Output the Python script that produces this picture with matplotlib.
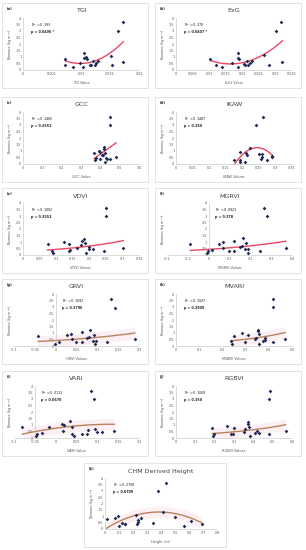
import numpy as np
import matplotlib
matplotlib.use('Agg')
import matplotlib.pyplot as plt
from matplotlib.patches import Rectangle

# --- data (x = index value, y = biomass kg m-2) ---
tgi_x = [0.0073, 0.0073, 0.0086, 0.0099, 0.0104, 0.0105, 0.0105, 0.0108, 0.0111, 0.0116,
         0.0117, 0.0120, 0.0124, 0.0125, 0.0130, 0.0152, 0.0154, 0.0164, 0.0173, 0.0173]
tgi_y = [0.82, 0.41, 0.20, 0.54, 0.20, 1.31, 0.92, 0.97, 0.85, 0.41,
         0.38, 0.72, 0.41, 0.56, 0.69, 1.10, 0.36, 3.00, 3.67, 0.59]

exg_x = [0.0104, 0.0120, 0.0140, 0.0168, 0.0187, 0.0188, 0.0189, 0.0188, 0.0204, 0.0209,
         0.0215, 0.0217, 0.0223, 0.0230, 0.0266, 0.0281, 0.0301, 0.0317, 0.0321]
exg_y = [0.82, 0.41, 0.20, 0.56, 1.33, 0.95, 0.85, 0.23, 0.44, 0.38,
         0.72, 0.36, 0.51, 0.69, 1.15, 0.36, 3.03, 3.67, 0.59]

gcc_x = [0.368, 0.373, 0.375, 0.392, 0.399, 0.399, 0.407, 0.416, 0.418, 0.418,
         0.423, 0.424, 0.430, 0.433, 0.452, 0.452, 0.452, 0.481]
gcc_y = [0.82, 0.28, 0.44, 1.00, 0.90, 0.36, 0.72, 0.67, 1.28, 1.15,
         0.18, 0.85, 0.49, 0.36, 3.62, 2.97, 0.36, 0.56]

ikaw_x = [0.174, 0.193, 0.194, 0.194, 0.209, 0.212, 0.215, 0.223, 0.241, 0.250,
          0.256, 0.258, 0.258, 0.264, 0.274, 0.289, 0.290]
ikaw_y = [0.33, 0.92, 0.31, 0.18, 0.13, 0.85, 0.69, 1.23, 2.97, 0.79,
          0.41, 0.77, 0.51, 3.62, 0.28, 0.54, 0.64]

vdvi_x = [0.074, 0.089, 0.091, 0.125, 0.138, 0.140, 0.143, 0.164, 0.176, 0.179,
          0.183, 0.187, 0.189, 0.200, 0.200, 0.212, 0.245, 0.249, 0.249, 0.303]
vdvi_y = [0.82, 0.31, 0.15, 1.00, 0.85, 0.31, 0.36, 0.54, 0.77, 1.08,
          1.26, 0.90, 0.15, 0.62, 0.44, 0.49, 0.31, 3.64, 2.97, 0.51]

mgrvi_x = [-0.088, -0.008, -0.003, 0.017, 0.051, 0.068, 0.071, 0.096, 0.121, 0.121,
           0.150, 0.158, 0.165, 0.175, 0.179, 0.190, 0.191, 0.245, 0.264, 0.278, 0.370]
mgrvi_y = [0.82, 0.15, 0.28, 0.38, 0.85, 0.97, 0.56, 0.33, 1.10, 0.33,
           0.64, 0.72, 1.28, 0.44, 0.90, 0.18, 0.44, 0.31, 3.62, 2.97, 0.54]

grvi_x = [-0.042, -0.002, 0.009, 0.026, 0.036, 0.038, 0.049, 0.062, 0.062, 0.074,
          0.080, 0.083, 0.089, 0.091, 0.094, 0.097, 0.124, 0.132, 0.142, 0.190]
grvi_y = [0.77, 0.13, 0.33, 0.82, 0.95, 0.51, 0.28, 1.08, 0.28, 0.64,
          0.69, 1.26, 0.38, 0.85, 0.18, 0.41, 0.28, 3.59, 2.95, 0.51]

mvari_x = [0.238, 0.241, 0.248, 0.285, 0.297, 0.310, 0.341, 0.343, 0.352, 0.353,
           0.357, 0.357, 0.375, 0.382, 0.383, 0.416, 0.418, 0.418, 0.471]
mvari_y = [0.41, 0.15, 0.79, 0.97, 0.31, 0.82, 0.51, 0.64, 1.26, 1.15,
           0.90, 0.15, 0.36, 0.62, 0.46, 0.31, 3.62, 2.97, 0.51]

vari_x = [-0.080, -0.048, -0.046, -0.033, -0.017, 0.016, 0.019, 0.017, 0.035, 0.040, 0.040,
          0.045, 0.064, 0.076, 0.078, 0.084, 0.091, 0.094, 0.099, 0.112, 0.141]
vari_y = [0.82, 0.15, 0.31, 0.38, 0.85, 1.10, 0.97, 0.51, 1.28, 0.87, 0.31,
          0.18, 0.33, 0.33, 0.64, 3.64, 3.00, 0.72, 0.44, 0.46, 0.54]

rgbvi_x = [0.187, 0.193, 0.197, 0.265, 0.287, 0.293, 0.298, 0.350, 0.358, 0.370,
           0.373, 0.380, 0.383, 0.410, 0.420, 0.428, 0.482, 0.482, 0.485, 0.567]
rgbvi_y = [0.77, 0.13, 0.31, 0.92, 0.28, 0.28, 0.79, 0.49, 0.67, 1.20,
           1.08, 0.87, 0.15, 0.36, 0.56, 0.38, 0.28, 2.97, 3.62, 0.51]

chm_x = [0.011, 0.074, 0.092, 0.101, 0.119, 0.140, 0.146, 0.221, 0.232, 0.234,
         0.239, 0.259, 0.340, 0.380, 0.412, 0.439, 0.502, 0.563, 0.617, 0.691]
chm_y = [0.78, 0.85, 1.00, 0.25, 0.50, 0.38, 0.38, 1.13, 0.43, 0.58,
         0.73, 0.88, 0.45, 3.00, 1.30, 3.63, 0.95, 0.25, 0.60, 0.38]

titles = ['TGI', 'ExG', 'GCC', 'IKAW', 'VDVI', 'MGRVI', 'GRVI', 'MVARI', 'VARI', 'RGBVI',
          'CHM Derived Height']
letters = ['(a)', '(b)', '(c)', '(d)', '(e)', '(f)', '(g)', '(h)', '(i)', '(j)', '(k)']
xlabels = ['TGI Value', 'ExG Value', 'GCC Value', 'IKAW Values', 'VDVI Values', 'MGRVI Values',
           'GRVI Values', 'MVARI Values', 'VARI Value', 'RGBVI Values', 'Height (m)']
r2_text = ['R$^2$ = 0.393', 'R$^2$ = 0.370', 'R$^2$ = 0.1465', 'R$^2$ = 0.1487', 'R$^2$ = 0.1002',
           'R$^2$ = 0.0923', 'R$^2$ = 0.1092', 'R$^2$ = 0.1047', 'R$^2$ = 0.0113', 'R$^2$ = 0.1049',
           'R$^2$ = 0.2708']
p_text = ['p = 0.0406 *', 'p = 0.0407 *', 'p = 0.2553', 'p = 0.250', 'p = 0.3553', 'p = 0.378',
          'p = 0.3796', 'p = 0.3909', 'p = 0.6670', 'p = 0.350', 'p = 0.0709']
xs = [tgi_x, exg_x, gcc_x, ikaw_x, vdvi_x, mgrvi_x, grvi_x, mvari_x, vari_x, rgbvi_x, chm_x]
ys = [tgi_y, exg_y, gcc_y, ikaw_y, vdvi_y, mgrvi_y, grvi_y, mvari_y, vari_y, rgbvi_y, chm_y]
fits = ['poly2', 'poly2', 'linear', 'poly2', 'exp', 'exp', 'exp', 'exp', 'poly2', 'exp', 'poly2']
xticks = [np.arange(0, 0.0201, 0.005), np.arange(0, 0.0351, 0.005), np.arange(0, 0.61, 0.1),
          np.arange(0, 0.351, 0.05), np.arange(0, 0.351, 0.05), np.arange(-0.2, 0.41, 0.1),
          np.arange(-0.1, 0.201, 0.05), np.arange(0, 0.51, 0.1), np.arange(-0.1, 0.201, 0.05),
          np.arange(0, 0.61, 0.1), np.arange(0, 0.81, 0.1)]
# where the vertical axis crosses (None = at left edge)
ycross = [None, None, None, None, None, 0.0, 0.0, None, -0.05, None, None]

W, H = 306, 550
fig = plt.figure(figsize=(W / 100, H / 100), dpi=100)
fig.patch.set_facecolor('white')

# panel boxes in pixels: left, top, width, height
col_l = [2, 155]
row_t = [3, 97, 188, 279, 371, 463]
boxes = []
for r in range(5):
    for c in range(2):
        boxes.append((col_l[c], row_t[r], 146, 85))
boxes.append((84, row_t[5], 142, 84))

dot_col = '#1f2a55'
red = '#ec4763'
brown = '#b9825c'


def fx(x):
    return x / W


def fy(y):
    return 1 - y / H


for i in range(11):
    bl, bt, bw, bh = boxes[i]
    fig.patches.append(Rectangle((fx(bl), fy(bt + bh)), bw / W, bh / H, transform=fig.transFigure,
                                 facecolor='none', edgecolor='#d9d9d9', lw=0.5, zorder=-5))
    left_off = 12 if ycross[i] is not None else 21
    right_off = 9
    top_off = 15
    bot_off = 18
    ax = fig.add_axes([fx(bl + left_off), fy(bt + bh - bot_off),
                       (bw - left_off - right_off) / W, (bh - top_off - bot_off) / H])
    ax.set_zorder(2)
    x = np.array(xs[i])
    y = np.array(ys[i])
    tk = xticks[i]
    ax.set_xlim(tk[0], tk[-1])
    ax.set_ylim(0, 4)

    lc = red if i < 6 else brown
    xx = np.linspace(x.min(), x.max(), 100)
    if fits[i] == 'exp':
        b, a = np.polyfit(x, np.log(y), 1)
        yy = np.exp(a) * np.exp(b * xx)
    elif fits[i] == 'linear':
        yy = np.polyval(np.polyfit(x, y, 1), xx)
    else:
        yy = np.polyval(np.polyfit(x, y, 2), xx)
    if i >= 6:
        ax.fill_between(xx, np.clip(yy - 0.45, 0, None), yy + 0.45, color='#fbe3ea', alpha=0.5,
                        lw=0, zorder=1)
    ax.plot(xx, yy, color=lc, lw=1.0, zorder=2)
    ax.scatter(x, y, s=3.6, color=dot_col, marker='D', zorder=3, lw=0)

    ax.set_xticks(tk)
    ax.set_xticklabels([f'{round(v, 4):g}' for v in tk])
    ax.set_yticks(np.arange(0, 4.01, 0.5))
    ax.set_yticklabels([f'{v:g}' for v in np.arange(0, 4.01, 0.5)])
    ax.tick_params(labelsize=2.4, length=0, pad=1.2, colors='#595959')
    for s in ['top', 'right']:
        ax.spines[s].set_visible(False)
    for s in ['left', 'bottom']:
        ax.spines[s].set_color('#bfbfbf')
        ax.spines[s].set_linewidth(0.4)
    if ycross[i] is not None:
        ax.spines['left'].set_position(('data', ycross[i]))
    ax.set_facecolor('none')

    # annotations
    pos = ax.get_position()
    ann_x = 0.07 if ycross[i] is None else ((ycross[i] - tk[0]) / (tk[-1] - tk[0]) + 0.05)
    ax.text(ann_x, 0.86, r2_text[i], transform=ax.transAxes, fontsize=2.4, color='#222222',
            va='center')
    ax.text(ann_x, 0.73, p_text[i], transform=ax.transAxes, fontsize=2.4, color='#222222',
            va='center', fontweight='bold')

    fig.text(fx(bl + 5), fy(bt + 6), letters[i], fontsize=2.6, fontweight='bold', va='center',
             color='#333333')
    fig.text((pos.x0 + pos.x1) / 2, fy(bt + 8), titles[i], fontsize=4.6, ha='center',
             va='center', color='#404040')
    fig.text((pos.x0 + pos.x1) / 2, fy(bt + bh - 5), xlabels[i], fontsize=2.5, ha='center',
             va='center', color='#595959')
    fig.text(fx(bl + 9), (pos.y0 + pos.y1) / 2, 'Biomass (kg m$^{-2}$)', fontsize=2.4,
             rotation=90, ha='center', va='center', color='#595959')

fig.savefig('out.png', dpi=100, facecolor='white')
